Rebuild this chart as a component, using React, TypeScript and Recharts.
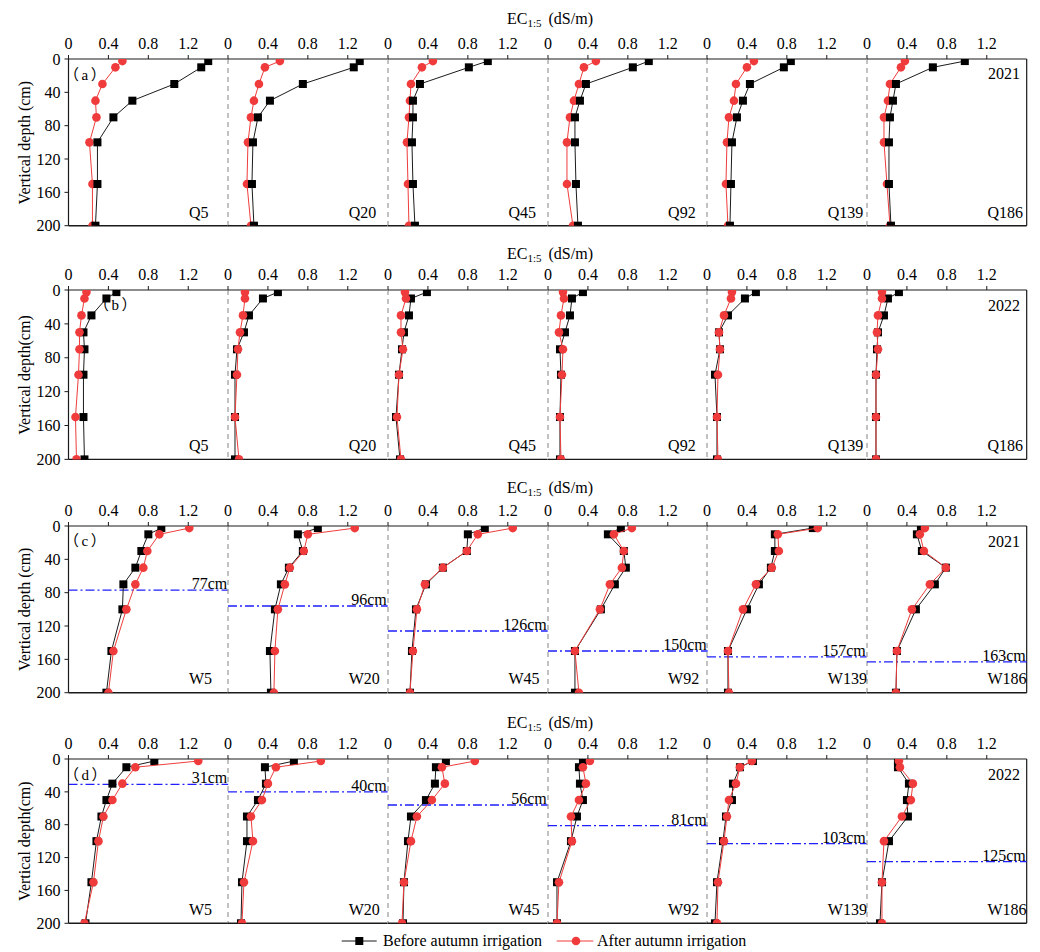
import React from 'react';
import { ScatterChart, Scatter, XAxis, YAxis, ReferenceLine } from 'recharts';

// Sampling depths (cm) shared by every profile
const DEPTHS = [2.5, 10, 30, 50, 70, 100, 150, 200];
const EC_TICKS = [0, 0.4, 0.8, 1.2];
const DEPTH_TICKS = [0, 40, 80, 120, 160, 200];

const Q_SITES = ['Q5', 'Q20', 'Q45', 'Q92', 'Q139', 'Q186'];
const W_SITES = ['W5', 'W20', 'W45', 'W92', 'W139', 'W186'];

// EC1:5 (dS/m) profiles, one inner array per site, values ordered by DEPTHS
const Q2021_BEFORE = [
  [1.40, 1.33, 1.06, 0.64, 0.45, 0.29, 0.29, 0.27],
  [1.32, 1.26, 0.75, 0.42, 0.30, 0.25, 0.24, 0.26],
  [1.00, 0.81, 0.32, 0.25, 0.25, 0.24, 0.25, 0.27],
  [1.01, 0.85, 0.38, 0.32, 0.27, 0.27, 0.28, 0.30],
  [0.84, 0.77, 0.43, 0.36, 0.30, 0.25, 0.24, 0.23],
  [0.98, 0.66, 0.29, 0.26, 0.23, 0.22, 0.22, 0.24],
];
const Q2021_AFTER = [
  [0.54, 0.47, 0.34, 0.27, 0.28, 0.21, 0.24, 0.24],
  [0.52, 0.37, 0.31, 0.26, 0.23, 0.20, 0.19, 0.23],
  [0.45, 0.34, 0.23, 0.22, 0.21, 0.19, 0.20, 0.21],
  [0.48, 0.36, 0.31, 0.26, 0.22, 0.19, 0.19, 0.25],
  [0.47, 0.40, 0.29, 0.27, 0.22, 0.20, 0.19, 0.21],
  [0.38, 0.34, 0.23, 0.21, 0.17, 0.17, 0.20, 0.23],
];

const Q2022_BEFORE = [
  [0.48, 0.38, 0.23, 0.15, 0.16, 0.15, 0.15, 0.16],
  [0.50, 0.35, 0.21, 0.16, 0.09, 0.07, 0.07, 0.07],
  [0.39, 0.23, 0.21, 0.16, 0.14, 0.11, 0.08, 0.12],
  [0.35, 0.24, 0.22, 0.17, 0.12, 0.13, 0.12, 0.12],
  [0.49, 0.38, 0.21, 0.12, 0.13, 0.08, 0.10, 0.10],
  [0.32, 0.21, 0.17, 0.11, 0.10, 0.09, 0.09, 0.09],
];
const Q2022_AFTER = [
  [0.18, 0.16, 0.13, 0.11, 0.11, 0.10, 0.07, 0.08],
  [0.17, 0.17, 0.15, 0.12, 0.10, 0.09, 0.07, 0.11],
  [0.17, 0.18, 0.13, 0.13, 0.15, 0.11, 0.09, 0.13],
  [0.15, 0.16, 0.13, 0.11, 0.15, 0.14, 0.12, 0.13],
  [0.25, 0.24, 0.17, 0.12, 0.13, 0.11, 0.10, 0.11],
  [0.15, 0.15, 0.11, 0.10, 0.11, 0.09, 0.09, 0.09],
];

const W2021_BEFORE = [
  [0.93, 0.80, 0.73, 0.67, 0.55, 0.54, 0.43, 0.38],
  [0.90, 0.70, 0.75, 0.61, 0.53, 0.47, 0.42, 0.43],
  [0.97, 0.80, 0.79, 0.55, 0.38, 0.28, 0.24, 0.22],
  [0.73, 0.60, 0.76, 0.78, 0.67, 0.53, 0.27, 0.27],
  [1.06, 0.68, 0.68, 0.64, 0.52, 0.40, 0.21, 0.21],
  [0.54, 0.50, 0.55, 0.79, 0.68, 0.49, 0.30, 0.29],
];
const W2021_AFTER = [
  [1.21, 0.91, 0.79, 0.75, 0.67, 0.58, 0.45, 0.40],
  [1.27, 0.80, 0.76, 0.62, 0.57, 0.50, 0.47, 0.46],
  [1.25, 0.90, 0.79, 0.55, 0.37, 0.29, 0.25, 0.22],
  [0.84, 0.66, 0.76, 0.74, 0.62, 0.52, 0.27, 0.31],
  [1.11, 0.71, 0.72, 0.65, 0.49, 0.36, 0.21, 0.22],
  [0.58, 0.53, 0.57, 0.79, 0.63, 0.45, 0.30, 0.29],
];

const W2022_BEFORE = [
  [0.86, 0.58, 0.44, 0.38, 0.33, 0.28, 0.23, 0.17],
  [0.66, 0.37, 0.38, 0.30, 0.19, 0.19, 0.14, 0.13],
  [0.58, 0.48, 0.47, 0.38, 0.23, 0.20, 0.16, 0.15],
  [0.35, 0.31, 0.32, 0.35, 0.29, 0.23, 0.09, 0.09],
  [0.46, 0.33, 0.26, 0.25, 0.19, 0.16, 0.10, 0.08],
  [0.31, 0.31, 0.42, 0.40, 0.41, 0.22, 0.15, 0.13],
];
const W2022_AFTER = [
  [1.30, 0.67, 0.54, 0.44, 0.35, 0.30, 0.25, 0.16],
  [0.93, 0.48, 0.40, 0.34, 0.23, 0.25, 0.16, 0.14],
  [0.87, 0.54, 0.57, 0.44, 0.29, 0.23, 0.16, 0.14],
  [0.42, 0.35, 0.38, 0.31, 0.23, 0.24, 0.11, 0.09],
  [0.45, 0.33, 0.29, 0.22, 0.20, 0.17, 0.11, 0.10],
  [0.32, 0.33, 0.46, 0.44, 0.35, 0.17, 0.15, 0.15],
];

// Groundwater table depth (cm) at the W sites
const W2021_WATER_TABLE = [77, 96, 126, 150, 157, 163];
const W2022_WATER_TABLE = [31, 40, 56, 81, 103, 125];

const SERIF = '"Liberation Serif", "Times New Roman", serif';
const TAG_FONT = '"Liberation Serif", "Noto Sans CJK SC", serif';
const RED = '#EF3B3B';
const INK = '#1a1a1a';
const BLUE = '#1f1fff';

const X0 = 68.5; // left edge of the first panel
const PW = 159.7; // panel width
const AXIS_H = 30; // room for the top EC axis
const PAD = 10;

type Row = {
  tag: string;
  year: string;
  yLabel: string;
  sites: string[];
  before: number[][];
  after: number[][];
  water: number[] | null;
  top: number;
  h: number;
  titleY: number;
  tagX: number;
  tagY: number;
  yearY: number;
  beforeOnTop: boolean;
};

const ROWS: Row[] = [
  {
    tag: '（a）', year: '2021', yLabel: 'Vertical depth (cm)', sites: Q_SITES,
    before: Q2021_BEFORE, after: Q2021_AFTER, water: null,
    top: 59.3, h: 166.7, titleY: 24, tagX: 64, tagY: 80, yearY: 79.3, beforeOnTop: true,
  },
  {
    tag: '（b）', year: '2022', yLabel: 'Vertical depth(cm)', sites: Q_SITES,
    before: Q2022_BEFORE, after: Q2022_AFTER, water: null,
    top: 290.3, h: 169.4, titleY: 258.5, tagX: 94, tagY: 310, yearY: 310.7, beforeOnTop: false,
  },
  {
    tag: '（c）', year: '2021', yLabel: 'Vertical depth (cm)', sites: W_SITES,
    before: W2021_BEFORE, after: W2021_AFTER, water: W2021_WATER_TABLE,
    top: 526, h: 166.7, titleY: 493.3, tagX: 64, tagY: 546, yearY: 546.7, beforeOnTop: false,
  },
  {
    tag: '（d）', year: '2022', yLabel: 'Vertical depth(cm)', sites: W_SITES,
    before: W2022_BEFORE, after: W2022_AFTER, water: W2022_WATER_TABLE,
    top: 759, h: 164.3, titleY: 727.7, tagX: 64, tagY: 780, yearY: 780, beforeOnTop: false,
  },
];

const fmtEC = (v: number) => (v === 0 ? '0' : v.toFixed(1));

const squareShape = (p: any) => (
  <rect x={p.cx - 4} y={p.cy - 4} width={8} height={8} fill="#000" />
);
const dotShape = (p: any) => <circle cx={p.cx} cy={p.cy} r={4.3} fill={RED} />;

function Panel({ row, idx }: { row: Row; idx: number }) {
  const first = idx === 0;
  const last = idx === row.sites.length - 1;
  const plotLeft = X0 + idx * PW;
  const chartLeft = first ? 0 : plotLeft - PAD;
  const width = (first ? X0 : PAD) + PW + PAD;
  const height = AXIS_H + row.h + 8;

  const before = DEPTHS.map((d, i) => ({ ec: row.before[idx][i], depth: d }));
  const after = DEPTHS.map((d, i) => ({ ec: row.after[idx][i], depth: d }));

  const beforeSeries = (
    <Scatter
      key="before"
      name="Before autumn irrigation"
      data={before}
      shape={squareShape}
      line={{ stroke: INK, strokeWidth: 1 }}
      lineType="joint"
      isAnimationActive={false}
    />
  );
  const afterSeries = (
    <Scatter
      key="after"
      name="After autumn irrigation"
      data={after}
      shape={dotShape}
      line={{ stroke: RED, strokeWidth: 1 }}
      lineType="joint"
      isAnimationActive={false}
    />
  );
  const wt = row.water ? row.water[idx] : null;

  return (
    <div style={{ position: 'absolute', left: chartLeft, top: row.top - AXIS_H }}>
      <ScatterChart
        width={width}
        height={height}
        margin={{ top: 0, right: PAD, bottom: 8, left: first ? 0 : PAD }}
      >
        <XAxis
          type="number"
          dataKey="ec"
          orientation="top"
          domain={[0, 1.6]}
          ticks={EC_TICKS}
          interval={0}
          allowDataOverflow
          tickFormatter={fmtEC}
          height={AXIS_H}
          tickSize={4}
          tickMargin={6}
          axisLine={{ stroke: INK, strokeWidth: 1.2 }}
          tickLine={{ stroke: INK }}
          tick={{ fill: '#000', fontSize: 16, fontFamily: SERIF }}
        />
        <YAxis
          type="number"
          dataKey="depth"
          domain={[0, 200]}
          reversed
          ticks={DEPTH_TICKS}
          interval={0}
          allowDataOverflow
          hide={!first}
          width={first ? X0 : 0}
          tickSize={4}
          tickMargin={4}
          axisLine={{ stroke: INK, strokeWidth: 1.2 }}
          tickLine={{ stroke: INK }}
          tick={{ fill: '#000', fontSize: 16, fontFamily: SERIF }}
        />
        {!first && (
          <ReferenceLine x={0} stroke="#9a9a9a" strokeWidth={1.2} strokeDasharray="5 4" />
        )}
        <ReferenceLine y={200} stroke={INK} strokeWidth={1.4} />
        {last && <ReferenceLine x={1.6} stroke={INK} strokeWidth={1.2} />}
        {wt !== null && (
          <ReferenceLine
            y={wt}
            stroke={BLUE}
            strokeWidth={1.3}
            strokeDasharray="9 3 2 3"
            label={{
              value: `${wt}cm`,
              position: 'insideBottomRight',
              offset: 1,
              fill: '#000',
              fontSize: 16,
              fontFamily: SERIF,
            }}
          />
        )}
        {row.beforeOnTop ? [afterSeries, beforeSeries] : [beforeSeries, afterSeries]}
      </ScatterChart>
    </div>
  );
}

function Annotations() {
  return (
    <svg
      width={1040}
      height={952}
      style={{ position: 'absolute', left: 0, top: 0, pointerEvents: 'none' }}
      fontFamily={SERIF}
      fontSize={16}
      fill="#000"
    >
      {ROWS.map((row, r) => {
        const midY = row.top + row.h / 2;
        return (
          <g key={r}>
            <text x={550} y={row.titleY} textAnchor="middle">
              EC
              <tspan fontSize={11} dy={3}>1:5</tspan>
              <tspan dx={7} dy={-3}>(dS/m)</tspan>
            </text>
            <text transform={`translate(30, ${midY}) rotate(-90)`} textAnchor="middle">
              {row.yLabel}
            </text>
            <text x={row.tagX} y={row.tagY} fontFamily={TAG_FONT} fontSize={15} letterSpacing={2.5}>
              {row.tag}
            </text>
            <text x={X0 + 5 * PW + 121} y={row.yearY}>{row.year}</text>
            {row.sites.map((s, i) => (
              <text key={s} x={X0 + i * PW + 120.5} y={row.top + row.h - 8.3}>
                {s}
              </text>
            ))}
          </g>
        );
      })}
      <g>
        <line x1={341.7} x2={376.7} y1={941} y2={941} stroke={INK} strokeWidth={1} />
        <rect x={355.3} y={937} width={8} height={8} fill="#000" />
        <text x={383} y={946}>Before autumn irrigation</text>
        <line x1={556.7} x2={593.3} y1={941} y2={941} stroke={RED} strokeWidth={1} />
        <circle cx={576} cy={941} r={4.3} fill={RED} />
        <text x={597} y={946}>After autumn irrigation</text>
      </g>
    </svg>
  );
}

export default function App() {
  return (
    <div
      style={{
        position: 'absolute',
        left: 0,
        top: 0,
        width: 1040,
        height: 952,
        background: '#fff',
        fontFamily: SERIF,
      }}
    >
      {ROWS.map((row, r) =>
        row.sites.map((s, i) => <Panel key={`${r}-${s}`} row={row} idx={i} />)
      )}
      <Annotations />
    </div>
  );
}
